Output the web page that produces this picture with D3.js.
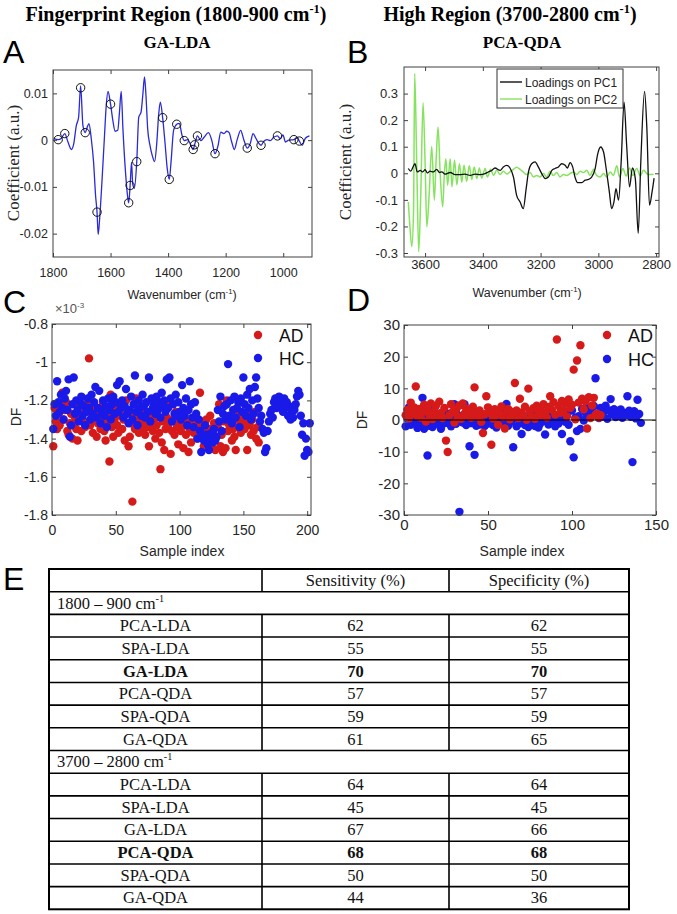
<!DOCTYPE html>
<html><head><meta charset="utf-8">
<script src="https://cdn.jsdelivr.net/npm/d3@7/dist/d3.min.js"></script>
<style>html,body{margin:0;padding:0;background:#fff;} svg{display:block}</style>
</head><body>
<svg id="fig" width="677" height="914"></svg>
<script>
// ================= DATA =================
// Panel A: GA-LDA coefficients (fingerprint region)
const aWave = [1797,1782,1771,1759,1748,1736,1728,1719,1711,1704,1696,1688,1681,1675,1667,1659,1652,1647,1643,1638,1630,1621,1615,1609,1600,1592,1584,1575,1569,1563,1557,1548,1541,1537,1532,1527,1523,1517,1509,1502,1494,1488,1482,1477,1471,1463,1455,1447,1440,1433,1427,1419,1411,1403,1396,1389,1381,1370,1361,1352,1344,1332,1323,1313,1308,1298,1286,1275,1260,1248,1237,1227,1217,1206,1196,1188,1179,1170,1160,1148,1137,1125,1114,1105,1095,1086,1077,1068,1056,1045,1033,1020,1010,1001,992,981,963,952,944,934,923,909];
const aCoef = [0.0003,0.0001,0.0004,0.0014,-0.0004,-0.0020,-0.0008,0.0031,0.0049,0.0116,0.0031,0.0016,0.0028,0.0035,0.0003,-0.0047,-0.0119,-0.0154,-0.0202,-0.0169,-0.0090,0.0010,0.0074,0.0104,0.0077,0.0042,0.0019,0.0021,0.0060,0.0104,0.0024,-0.0069,-0.0119,-0.0134,-0.0097,-0.0047,-0.0094,-0.0103,-0.0046,0.0049,0.0060,0.0096,0.0135,0.0096,0.0024,-0.0011,-0.0033,-0.0046,-0.0011,0.0053,0.0081,0.0048,-0.0004,-0.0061,-0.0084,-0.0040,0.0021,0.0034,0.0036,0.0011,-0.0001,0.0001,-0.0008,-0.0020,-0.0010,0.0009,-0.0001,0.0006,0.0016,-0.0001,-0.0029,-0.0013,0.0017,0.0014,0.0019,0.0016,-0.0004,-0.0020,0.0001,0.0021,0.0001,-0.0017,-0.0006,0.0014,0.0004,-0.0006,-0.0011,-0.0003,0.0001,-0.0001,0.0006,0.0009,0.0003,0.0011,-0.0004,0.0000,0.0001,0.0006,-0.0002,-0.0011,0.0004,0.0009];
const aSelWave = [1782,1759,1704,1688,1647,1600,1537,1532,1509,1419,1396,1370,1344,1313,1308,1298,1237,1125,1077,1020,963,944];
const aSelCoef = [0.0001,0.0014,0.0112,0.0016,-0.0154,0.0077,-0.0134,-0.0097,-0.0046,0.0048,-0.0084,0.0034,-0.0001,-0.0020,-0.0010,0.0009,-0.0029,-0.0017,-0.0011,0.0009,0.0001,-0.0002];

// Panel B: PCA loadings (high region)
const bWavePC1 = [3658,3650,3640,3635,3627,3617,3608,3600,3592,3583,3571,3560,3550,3542,3531,3513,3496,3479,3462,3444,3427,3410,3392,3381,3369,3358,3340,3329,3317,3306,3294,3283,3271,3260,3250,3242,3231,3219,3208,3196,3184,3173,3161,3150,3138,3127,3115,3107,3098,3089,3081,3072,3057,3046,3034,3023,3011,3002,2992,2982,2973,2962,2954,2946,2939,2930,2921,2911,2902,2892,2882,2872,2862,2853,2840,2832,2823,2814,2807];
const bPC1 = [0.018,0.008,0.028,0.036,0.005,0.011,0.005,0.014,0.001,0.008,0.005,0.015,0.003,0.005,-0.003,0.003,-0.005,-0.005,-0.003,-0.008,-0.003,-0.005,-0.001,0.005,0.011,0.020,0.011,0.024,0.030,0.020,-0.014,-0.083,-0.108,-0.133,-0.058,0.005,0.036,0.043,0.024,-0.001,-0.020,-0.014,0.011,0.018,0.024,0.036,0.030,0.020,0.040,0.024,-0.014,-0.035,-0.035,-0.026,-0.023,-0.014,0.018,0.074,0.099,0.080,0.018,-0.070,-0.133,-0.108,-0.058,-0.101,0.043,0.268,0.105,-0.051,0.020,-0.020,-0.226,0.043,0.308,0.168,-0.120,-0.070,-0.018];
const bWavePC2 = [3658,3652,3646,3640,3636,3629,3622,3615,3607,3600,3594,3586,3577,3568,3562,3555,3548,3539,3533,3528,3522,3513,3507,3498,3490,3481,3473,3465,3456,3447,3438,3430,3421,3412,3404,3392,3384,3373,3363,3352,3340,3329,3317,3306,3294,3283,3271,3260,3248,3236,3225,3213,3202,3190,3179,3167,3156,3144,3133,3121,3109,3098,3086,3075,3063,3052,3040,3029,3017,3006,2994,2982,2971,2959,2948,2936,2927,2915,2904,2892,2881,2867,2855,2844,2827,2809];
const bPC2 = [-0.108,-0.208,-0.276,-0.145,0.376,0.043,-0.295,-0.083,0.265,0.043,-0.201,-0.083,0.101,-0.101,0.043,0.174,0.005,-0.126,0.005,0.055,-0.045,0.055,-0.051,0.049,-0.043,0.036,-0.033,0.030,-0.030,0.028,-0.023,0.024,-0.020,0.020,-0.018,0.018,-0.014,0.015,-0.008,0.011,-0.005,0.008,-0.003,0.005,0.015,0.023,0.015,0.005,-0.005,0.003,-0.014,-0.008,-0.014,-0.001,-0.014,0.008,-0.008,0.003,-0.014,-0.005,-0.008,-0.001,0.005,-0.005,0.008,0.003,0.011,-0.008,0.015,-0.008,-0.014,-0.001,-0.014,0.005,-0.008,0.028,-0.014,0.018,-0.010,0.020,-0.008,0.018,-0.010,0.011,-0.005,-0.004];
const pcNames = ["Loadings on PC1","Loadings on PC2"];

// Panel C: DF scores (x10^-3), sample index = position + 1
const cAD = [-1.44,-1.24,-1.31,-1.35,-1.27,-1.33,-1.22,-1.16,-1.30,-1.25,
-1.21,-1.36,-1.38,-1.32,-1.27,-1.40,-1.33,-1.29,-1.35,-1.41,
-1.23,-1.30,-1.36,-1.27,-1.31,-1.34,-1.22,-1.26,-0.98,-1.33,
-1.30,-1.37,-1.24,-1.28,-1.39,-1.32,-1.26,-1.35,-1.29,-1.22,
-1.36,-1.41,-1.31,-1.27,-1.52,-1.17,-1.34,-1.39,-1.30,-1.25,
-1.33,-1.37,-1.22,-1.28,-1.35,-1.30,-1.41,-1.20,-1.26,-1.44,
-1.39,-1.32,-1.73,-1.28,-1.35,-1.19,-1.30,-1.37,-1.33,-1.26,
-1.35,-1.31,-1.38,-1.29,-1.34,-1.44,-1.27,-1.32,-1.36,-1.30,
-1.40,-1.33,-1.28,-1.37,-1.56,-1.42,-1.31,-1.46,-1.35,-1.29,
-1.33,-1.21,-1.48,-1.36,-1.30,-1.38,-1.26,-1.34,-1.43,-1.32,
-1.36,-1.29,-1.45,-1.33,-1.38,-1.31,-1.47,-1.35,-1.42,-1.30,
-1.37,-1.33,-1.29,-1.40,-1.34,-1.16,-1.38,-1.31,-1.44,-1.36,
-1.30,-1.41,-1.35,-1.28,-1.43,-1.37,-1.32,-1.46,-1.39,-1.34,
-1.22,-1.44,-1.38,-1.47,-1.31,-1.45,-1.20,-1.36,-1.33,-1.29,
-1.41,-1.35,-1.39,-1.46,-1.30,-1.34,-1.27,-1.37,-1.32,-1.28,
-1.35,-1.31,-1.46,-1.27,-1.33,-1.38,-1.30,-1.36,-1.26,-1.40,
-1.34,-1.42];
const cHC = [-1.35,-1.22,-1.28,-1.10,-1.21,-1.26,-1.17,-1.24,-1.30,-1.19,
-1.15,-1.25,-1.09,-1.39,-1.33,-1.22,-1.08,-1.27,-1.20,-1.25,
-1.31,-1.21,-1.18,-1.28,-1.23,-1.33,-1.26,-1.19,-1.24,-1.30,
-1.17,-1.27,-1.21,-1.13,-1.29,-1.24,-1.15,-1.32,-1.26,-1.20,
-1.28,-1.23,-1.34,-1.19,-1.25,-1.30,-1.22,-1.18,-1.27,-1.21,
-1.12,-1.26,-1.10,-1.24,-1.20,-1.29,-1.23,-1.14,-1.27,-1.32,
-1.25,-1.18,-1.30,-1.22,-1.07,-1.26,-1.33,-1.20,-1.24,-1.28,
-1.17,-1.23,-1.29,-1.21,-1.26,-1.08,-1.31,-1.19,-1.24,-1.22,
-1.27,-1.18,-1.25,-1.21,-1.29,-1.16,-1.23,-1.20,-1.26,-1.09,
-1.24,-1.08,-1.19,-1.31,-1.22,-1.27,-1.17,-1.28,-1.21,-1.26,
-1.30,-1.12,-1.24,-1.28,-1.19,-1.33,-1.25,-1.10,-1.22,-1.29,
-1.34,-1.21,-1.27,-1.40,-1.30,-1.36,-1.47,-1.39,-1.41,-1.33,
-1.38,-1.43,-1.46,-1.40,-1.37,-1.42,-1.35,-1.41,-1.39,-1.25,
-1.31,-1.18,-1.36,-1.27,-1.23,-1.30,-1.22,-1.01,-1.28,-1.20,
-1.32,-1.25,-1.18,-1.29,-1.24,-1.21,-1.34,-1.19,-1.26,-1.08,
-1.22,-1.28,-1.17,-1.24,-1.14,-1.30,-1.20,-1.27,-1.13,-1.08,
-1.19,-1.24,-1.31,-1.28,-1.35,-1.37,-1.47,-1.45,-1.36,-1.31,
-1.27,-1.25,-1.29,-1.21,-1.19,-1.24,-1.20,-1.18,-1.23,-1.22,
-1.26,-1.19,-1.24,-1.21,-1.28,-1.23,-1.30,-1.26,-1.29,-1.25,
-1.22,-1.18,-1.15,-1.17,-1.28,-1.38,-1.32,-1.49,-1.40,-1.46,
-1.47,-1.32];

// Panel D: DF scores, sample index = position + 1
const dAD = [1.5,3.2,0.5,5.5,2.0,4.0,10.6,1.2,3.5,0.8,
2.5,4.8,-0.5,3.0,1.8,5.2,0.3,2.8,4.5,1.0,
5.8,2.2,0.6,3.8,-6.5,-10.1,1.5,5.0,2.6,-0.8,
3.3,1.1,4.6,0.4,5.2,2.0,3.6,1.3,2.9,0.7,
4.2,10.3,2.5,1.0,3.0,-0.6,-4.1,1.8,7.5,4.0,
2.2,-7.8,0.5,3.4,1.6,-1.5,2.8,4.3,0.9,-2.7,
1.9,3.5,0.2,2.6,1.2,11.7,3.0,0.6,6.7,2.4,
1.5,4.2,0.1,9.9,2.8,1.0,3.7,0.4,4.5,2.0,
3.1,1.4,5.0,2.5,0.8,4.1,7.5,3.2,5.6,1.7,
25.4,4.4,2.3,6.0,3.0,5.3,1.1,6.5,3.8,4.8,
15.9,0.2,18.8,5.5,23.6,6.7,3.4,5.9,-2.7,7.2,
0.6,4.6,7.0,1.7,2.0,0.8,1.5];
const dHC = [-2.0,0.5,4.0,-1.5,1.2,-0.8,2.5,-2.5,0.3,-1.2,
7.0,-2.8,1.5,-11.2,-1.8,0.8,-2.2,3.5,-0.5,1.8,
-1.5,-2.8,0.6,-1.0,2.2,-0.3,1.0,-2.0,0.4,5.0,
-1.2,1.6,-29.0,0.2,-0.8,5.0,-1.6,0.9,-8.3,-1.0,
2.0,-11.0,-1.8,0.5,-1.4,1.2,-0.6,-1.9,0.3,-1.1,
1.8,-0.4,-1.6,0.7,-2.4,1.4,-0.9,2.2,-1.3,0.1,
5.1,-1.8,0.9,-0.5,-8.6,1.5,-2.0,0.4,-1.0,-4.4,
1.0,-1.6,0.2,-2.2,0.8,-0.7,1.6,-1.9,0.5,-2.4,
-1.2,1.3,-0.3,-4.6,0.6,-1.4,2.1,-0.8,0.9,-2.0,
1.4,-1.1,0.3,-4.4,2.6,-0.6,1.8,-1.5,-6.7,3.0,
-11.8,0.7,-3.5,1.2,-2.8,3.5,-0.2,2.4,0.9,4.0,
3.1,1.5,4.4,13.2,2.0,0.6,3.8,1.1,2.7,4.5,
0.4,3.0,6.6,1.8,3.4,0.9,2.6,1.3,3.3,0.7,
2.2,1.6,7.5,2.9,1.0,-13.3,2.8,0.5,6.4,1.9,-0.9];
const groupNames = ["AD","HC"];

// Tick labels
const aXTicks = [1800,1600,1400,1200,1000];
const aYTicks = [-0.02,-0.01,0,0.01];
const bXTicks = [3600,3400,3200,3000,2800];
const bYTicks = [-0.3,-0.2,-0.1,0,0.1,0.2,0.3];
const cXTicks = [0,50,100,150,200];
const cYTicks = [-1.8,-1.6,-1.4,-1.2,-1,-0.8];
const dXTicks = [0,50,100,150];
const dYTicks = [-30,-20,-10,0,10,20,30];

// Panel E table
const tableHeader = ["Sensitivity (%)","Specificity (%)"];
const methods = ["PCA-LDA","SPA-LDA","GA-LDA","PCA-QDA","SPA-QDA","GA-QDA"];
const fpSens = [62,55,70,57,59,61];
const fpSpec = [62,55,70,57,59,65];
const hiSens = [64,45,67,68,50,44];
const hiSpec = [64,45,66,68,50,36];
const fpBest = "GA-LDA";
const hiBest = "PCA-QDA";

// ================= DRAWING =================
const SANS = "Arial, 'Liberation Sans', Helvetica, sans-serif";
const SERIF = "'Times New Roman', 'Liberation Serif', Times, serif";
const BOX = "#404040", TXT = "#262626";
const RED = "#d61a1a", BLUE = "#1a1ae8", LINEBLUE = "#2a2ad6", GREEN = "#86e35f";
const DOT_R = 4.2;
const svg = d3.select("#fig");
const fmt = v => String(+(+v).toFixed(4));

function rich(g, x, y, parts, o) {
  const t = g.append("text").attr("x", x).attr("y", y)
    .attr("font-family", o.family).attr("font-size", o.size)
    .attr("font-weight", o.weight || "normal")
    .attr("text-anchor", o.anchor || "middle").attr("fill", o.fill || "#000");
  if (o.rotate) t.attr("transform", `rotate(-90,${x},${y})`);
  let cur = 0;
  const up = o.size * 0.42;
  parts.forEach(p => {
    const sup = Array.isArray(p);
    const txt = sup ? p[0] : p;
    const target = sup ? -up : 0;
    t.append("tspan").attr("dy", target - cur)
      .attr("font-size", sup ? o.size * 0.62 : o.size).text(txt);
    cur = target;
  });
  return t;
}

function makePanel(c) {
  const g = svg.append("g");
  const x = d3.scaleLinear().domain(c.xDomain).range([c.left, c.right]);
  const y = d3.scaleLinear().domain(c.yDomain).range([c.bottom, c.top]);
  const style = s => {
    s.select(".domain").remove();
    s.selectAll("line").attr("stroke", BOX).attr("stroke-width", 1);
    s.attr("font-family", SANS).attr("font-size", c.fs);
    s.selectAll("text").attr("fill", TXT);
  };
  g.append("rect").attr("x", c.left).attr("y", c.top)
    .attr("width", c.right - c.left).attr("height", c.bottom - c.top)
    .attr("fill", "#fff").attr("stroke", "none");
  const plot = g.append("g");
  const ax = g.append("g");
  ax.append("g").attr("transform", `translate(0,${c.bottom})`)
    .call(d3.axisBottom(x).tickValues(c.xTicks).tickFormat(fmt).tickSizeInner(-4).tickSizeOuter(0).tickPadding(c.xPad)).call(style);
  ax.append("g").attr("transform", `translate(0,${c.top})`)
    .call(d3.axisTop(x).tickValues(c.xTicks).tickFormat("").tickSizeInner(-4).tickSizeOuter(0)).call(style);
  ax.append("g").attr("transform", `translate(${c.left},0)`)
    .call(d3.axisLeft(y).tickValues(c.yTicks).tickFormat(fmt).tickSizeInner(-4).tickSizeOuter(0).tickPadding(c.yPad)).call(style);
  ax.append("g").attr("transform", `translate(${c.right},0)`)
    .call(d3.axisRight(y).tickValues(c.yTicks).tickFormat("").tickSizeInner(-4).tickSizeOuter(0)).call(style);
  ax.append("rect").attr("x", c.left).attr("y", c.top)
    .attr("width", c.right - c.left).attr("height", c.bottom - c.top)
    .attr("fill", "none").attr("stroke", BOX).attr("stroke-width", 1);
  return { g, plot, ax, x, y };
}

// ---- Titles & panel letters ----
const T = svg.append("g");
rich(T, 176, 21, ["Fingerprint Region (1800-900 cm", ["-1"], ")"], { family: SERIF, size: 20, weight: "bold" });
rich(T, 510, 21, ["High Region (3700-2800 cm", ["-1"], ")"], { family: SERIF, size: 20, weight: "bold" });
rich(T, 177, 48, ["GA-LDA"], { family: SERIF, size: 17, weight: "bold" });
rich(T, 522, 48, ["PCA-QDA"], { family: SERIF, size: 17, weight: "bold" });
[["A", 3, 63], ["B", 347, 63], ["C", 3, 313], ["D", 347, 311], ["E", 3, 590]].forEach(([l, x, y]) =>
  T.append("text").attr("x", x).attr("y", y).attr("font-family", SANS).attr("font-size", 32).attr("fill", "#000").text(l));

// ---- Panel A ----
const A = makePanel({ left: 53, right: 312, top: 70, bottom: 257, xDomain: [1800, 900], yDomain: [-0.025, 0.015],
  xTicks: aXTicks, yTicks: aYTicks, fs: 12.5, xPad: 11, yPad: 5 });
A.plot.append("path").datum(aWave.map((w, i) => [w, aCoef[i]]))
  .attr("fill", "none").attr("stroke", LINEBLUE).attr("stroke-width", 1.3)
  .attr("d", d3.line().x(d => A.x(d[0])).y(d => A.y(d[1])).curve(d3.curveMonotoneX));
A.plot.selectAll("circle.sel").data(aSelWave.map((w, i) => [w, aSelCoef[i]])).join("circle")
  .attr("cx", d => A.x(d[0])).attr("cy", d => A.y(d[1])).attr("r", 4.2)
  .attr("fill", "none").attr("stroke", "#111").attr("stroke-width", 1);
rich(A.g, 182, 299, ["Wavenumber (cm", ["-1"], ")"], { family: SANS, size: 12.5, fill: TXT });
rich(A.g, 19, 163, ["Coefficient (a.u.)"], { family: SERIF, size: 17, rotate: true, fill: TXT });

// ---- Panel B ----
const B = makePanel({ left: 404, right: 659, top: 67, bottom: 257, xDomain: [3673, 2790], yDomain: [-0.315, 0.4],
  xTicks: bXTicks, yTicks: bYTicks, fs: 13, xPad: 3, yPad: 6 });
const bLine = d3.line().x(d => B.x(d[0])).y(d => B.y(d[1])).curve(d3.curveMonotoneX);
B.plot.append("path").datum(bWavePC2.map((w, i) => [w, bPC2[i]]))
  .attr("fill", "none").attr("stroke", GREEN).attr("stroke-width", 1.5).attr("d", bLine);
B.plot.append("path").datum(bWavePC1.map((w, i) => [w, bPC1[i]]))
  .attr("fill", "none").attr("stroke", "#111").attr("stroke-width", 1.3).attr("d", bLine);
const BL = B.g.append("g");
BL.append("rect").attr("x", 497).attr("y", 69).attr("width", 126).attr("height", 39)
  .attr("fill", "#fff").attr("stroke", "#333").attr("stroke-width", 1);
pcNames.forEach((n, i) => {
  const yy = 82 + i * 17;
  BL.append("line").attr("x1", 500).attr("x2", 522).attr("y1", yy).attr("y2", yy)
    .attr("stroke", i === 0 ? "#111" : GREEN).attr("stroke-width", 1.4);
  BL.append("text").attr("x", 525).attr("y", yy + 4.5).attr("font-family", SANS).attr("font-size", 12)
    .attr("fill", TXT).text(n);
});
rich(B.g, 527, 297, ["Wavenumber (cm", ["-1"], ")"], { family: SANS, size: 12.5, fill: TXT });
rich(B.g, 351, 162, ["Coefficient (a.u.)"], { family: SERIF, size: 17, rotate: true, fill: TXT });

// ---- Panel C ----
const C = makePanel({ left: 52, right: 311, top: 324, bottom: 515, xDomain: [0, 203], yDomain: [-1.8, -0.8],
  xTicks: cXTicks, yTicks: cYTicks, fs: 14, xPad: 10, yPad: 4 });
C.plot.selectAll("circle.ad").data(cAD).join("circle").attr("class", "ad")
  .attr("cx", (d, i) => C.x(i + 1)).attr("cy", d => C.y(d)).attr("r", DOT_R).attr("fill", RED);
C.plot.selectAll("circle.hc").data(cHC).join("circle").attr("class", "hc")
  .attr("cx", (d, i) => C.x(i + 1)).attr("cy", d => C.y(d)).attr("r", DOT_R).attr("fill", BLUE);
rich(C.g, 55, 313, ["\u00d710", ["-3"]], { family: SANS, size: 13, anchor: "start", fill: "#555" });
rich(C.g, 182, 556, ["Sample index"], { family: SANS, size: 14, fill: TXT });
rich(C.g, 21, 417, ["DF"], { family: SANS, size: 14, rotate: true, fill: TXT });
groupNames.forEach((n, i) => {
  const yy = 335 + i * 23;
  C.g.append("circle").attr("cx", 258).attr("cy", yy).attr("r", DOT_R).attr("fill", i ? BLUE : RED);
  C.g.append("text").attr("x", 279).attr("y", yy + 6.5).attr("font-family", SANS).attr("font-size", 17.5)
    .attr("fill", "#111").text(n);
});

// ---- Panel D ----
const D = makePanel({ left: 404, right: 656, top: 325, bottom: 515, xDomain: [0, 150], yDomain: [-30, 30],
  xTicks: dXTicks, yTicks: dYTicks, fs: 15, xPad: 4, yPad: 4 });
D.plot.selectAll("circle.hc").data(dHC).join("circle").attr("class", "hc")
  .attr("cx", (d, i) => D.x(i + 1)).attr("cy", d => D.y(d)).attr("r", DOT_R).attr("fill", BLUE);
D.plot.selectAll("circle.ad").data(dAD).join("circle").attr("class", "ad")
  .attr("cx", (d, i) => D.x(i + 1)).attr("cy", d => D.y(d)).attr("r", DOT_R).attr("fill", RED);
D.plot.append("line").attr("x1", D.x(0)).attr("x2", D.x(150)).attr("y1", D.y(0)).attr("y2", D.y(0))
  .attr("stroke", "#000").attr("stroke-width", 1.2);
rich(D.g, 522, 556, ["Sample index"], { family: SANS, size: 14, fill: TXT });
rich(D.g, 367, 420, ["DF"], { family: SANS, size: 14, rotate: true, fill: TXT });
groupNames.forEach((n, i) => {
  const yy = 335 + i * 24;
  D.g.append("circle").attr("cx", 607).attr("cy", yy).attr("r", DOT_R).attr("fill", i ? BLUE : RED);
  D.g.append("text").attr("x", 628).attr("y", yy + 7).attr("font-family", SANS).attr("font-size", 18)
    .attr("fill", "#111").text(n);
});

// ---- Panel E: table ----
const rows = [{ type: "head" }, { type: "section", label: "1800 \u2013 900 cm" }]
  .concat(methods.map((m, i) => ({ type: "row", m, s: fpSens[i], p: fpSpec[i], bold: m === fpBest })))
  .concat([{ type: "section", label: "3700 \u2013 2800 cm" }])
  .concat(methods.map((m, i) => ({ type: "row", m, s: hiSens[i], p: hiSpec[i], bold: m === hiBest })));
const ry = d3.scaleBand().domain(d3.range(rows.length)).range([569, 909.3]);
const colX = [49, 262, 449, 629];
const E = svg.append("g");
rows.forEach((r, i) => {
  const y0 = ry(i), h = ry.bandwidth(), yc = y0 + h / 2 + 5.5;
  if (r.type !== "section") {
    [1, 2].forEach(k => E.append("line").attr("x1", colX[k]).attr("x2", colX[k]).attr("y1", y0).attr("y2", y0 + h)
      .attr("stroke", "#000").attr("stroke-width", 1.6));
  }
  if (i > 0) E.append("line").attr("x1", colX[0]).attr("x2", colX[3]).attr("y1", y0).attr("y2", y0)
    .attr("stroke", "#000").attr("stroke-width", 1.6);
  const tx = (x, s, bold) => E.append("text").attr("x", x).attr("y", yc).attr("text-anchor", "middle")
    .attr("font-family", SERIF).attr("font-size", 16.5).attr("font-weight", bold ? "bold" : "normal")
    .attr("fill", "#111").text(s);
  if (r.type === "head") {
    tx((colX[1] + colX[2]) / 2, tableHeader[0]);
    tx((colX[2] + colX[3]) / 2, tableHeader[1]);
  } else if (r.type === "section") {
    rich(E, 57, yc, [r.label, ["-1"]], { family: SERIF, size: 16.5, anchor: "start", fill: "#111" });
  } else {
    tx((colX[0] + colX[1]) / 2, r.m, r.bold);
    tx((colX[1] + colX[2]) / 2, r.s, r.bold);
    tx((colX[2] + colX[3]) / 2, r.p, r.bold);
  }
});
E.append("rect").attr("x", colX[0]).attr("y", 569).attr("width", colX[3] - colX[0]).attr("height", 909.3 - 569)
  .attr("fill", "none").attr("stroke", "#000").attr("stroke-width", 2);
</script>
</body></html>
